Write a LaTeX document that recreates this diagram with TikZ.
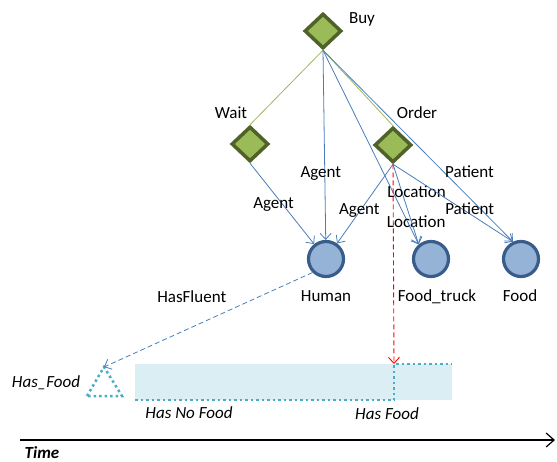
\documentclass[tikz,border=0pt]{standalone}
\usepackage{fontspec}
\setmainfont{Carlito}
\usetikzlibrary{shapes.geometric, arrows.meta}

\definecolor{actfill}{RGB}{155,187,89}
\definecolor{actdraw}{RGB}{79,98,40}
\definecolor{objfill}{RGB}{149,179,215}
\definecolor{objdraw}{RGB}{56,93,138}
\definecolor{rolecol}{RGB}{74,126,187}
\definecolor{fluentcol}{RGB}{75,172,198}
\definecolor{fluentbg}{RGB}{218,238,243}

\begin{document}
\begin{tikzpicture}[x=1pt, y=-1pt, font=\fontsize{17}{20}\selectfont,
  act/.style={diamond, draw=actdraw, fill=actfill, line width=3.5pt, minimum width=37pt, minimum height=35pt, inner sep=0pt},
  obj/.style={circle, draw=objdraw, fill=objfill, line width=3.2pt, minimum size=35pt, inner sep=0pt},
  role/.style={draw=rolecol, line width=0.8pt, -{Straight Barb[length=6pt,width=11pt]}},
  sub/.style={draw=actfill, line width=0.8pt},
  lbl/.style={anchor=base, inner sep=0pt},
  fluent/.style={draw=fluentcol, line width=2.5pt, dash pattern=on 2.5pt off 3pt},
  hasfl/.style={draw=rolecol, line width=0.8pt, dash pattern=on 5pt off 3pt, -{Straight Barb[length=6pt,width=11pt]}},
  change/.style={draw=red, line width=0.9pt, dash pattern=on 5pt off 3pt, -{Straight Barb[length=6pt,width=11pt]}}]
  \useasboundingbox (0,0) rectangle (557,461);

  % fluent timeline
  \fill[fluentbg] (135,364) rectangle (452,400);
  \coordinate (chg) at (394,364);
  \coordinate (hf) at (104,367);
  \draw[fluent] (87,396) -- (hf) -- (122,396) -- cycle;
  \draw[fluent] (135,400) -- (394,400) -- (chg) -- (452,364);

  % actions
  \draw (323,31) node[act] (buy) {};
  \draw (250,144) node[act] (wait) {};
  \draw (393,145) node[act] (order) {};
  \draw (362,23) node[lbl] (buylbl) {Buy};
  \draw (231,118) node[lbl] (waitlbl) {Wait};
  \draw (417,118) node[lbl] (orderlbl) {Order};

  % objects
  \draw (326,259) node[obj] (human) {};
  \draw (431,259) node[obj] (truck) {};
  \draw (521,259) node[obj] (food) {};
  \draw (326,301.5) node[lbl] (humanlbl) {Human};
  \draw (437,301.5) node[lbl] (trucklbl) {Food\_truck};
  \draw (520,301.5) node[lbl] (foodlbl) {Food};

  \path (buy.south) edge[sub] (wait.north)
        (buy.south) edge[sub] (order.north);

  \path (buy.south) edge[role] node[lbl, pos=0.672, xshift=-4pt] (agent1) {Agent} (human)
        (wait.south) edge[role] node[lbl, pos=0.555, xshift=-12pt] (agent2) {Agent} (human)
        (order.south) edge[role] node[lbl, pos=0.637, xshift=2pt] (agent3) {Agent} (human);
  \path (buy.south) edge[role] node[lbl, pos=0.911, xshift=6pt] (loc1) {Location} (truck.130)
        (order.south) edge[role] node[lbl, pos=0.411, xshift=13pt] (loc2) {Location} (truck.130);
  \path (buy.south) edge[role] node[lbl, pos=0.666, xshift=20pt] (pat1) {Patient} (food.115)
        (order.south) edge[role] node[lbl, pos=0.648, xshift=-1pt] (pat2) {Patient} (food.115);

  \path (order.south) edge[change] (chg);
  \path (human.225) edge[hasfl] node[lbl, pos=0.32, xshift=-54pt] (hflbl) {HasFluent} (hf);

  \draw (46,387.5) node[lbl] (fluentlbl) {\itshape Has\_Food};
  \draw (189,418.5) node[lbl] (nofoodlbl) {\itshape Has No Food};
  \draw (387,419) node[lbl] (foodstlbl) {\itshape Has Food};

  % time axis
  \coordinate (t0) at (20,440);
  \coordinate (t1) at (555,440);
  \draw[line width=1.2pt, -{Straight Barb[length=8pt,width=14pt]}] (t0) -- (t1);
  \draw (42,458) node[lbl] (timelbl) {\bfseries\itshape Time};
\end{tikzpicture}
\end{document}
